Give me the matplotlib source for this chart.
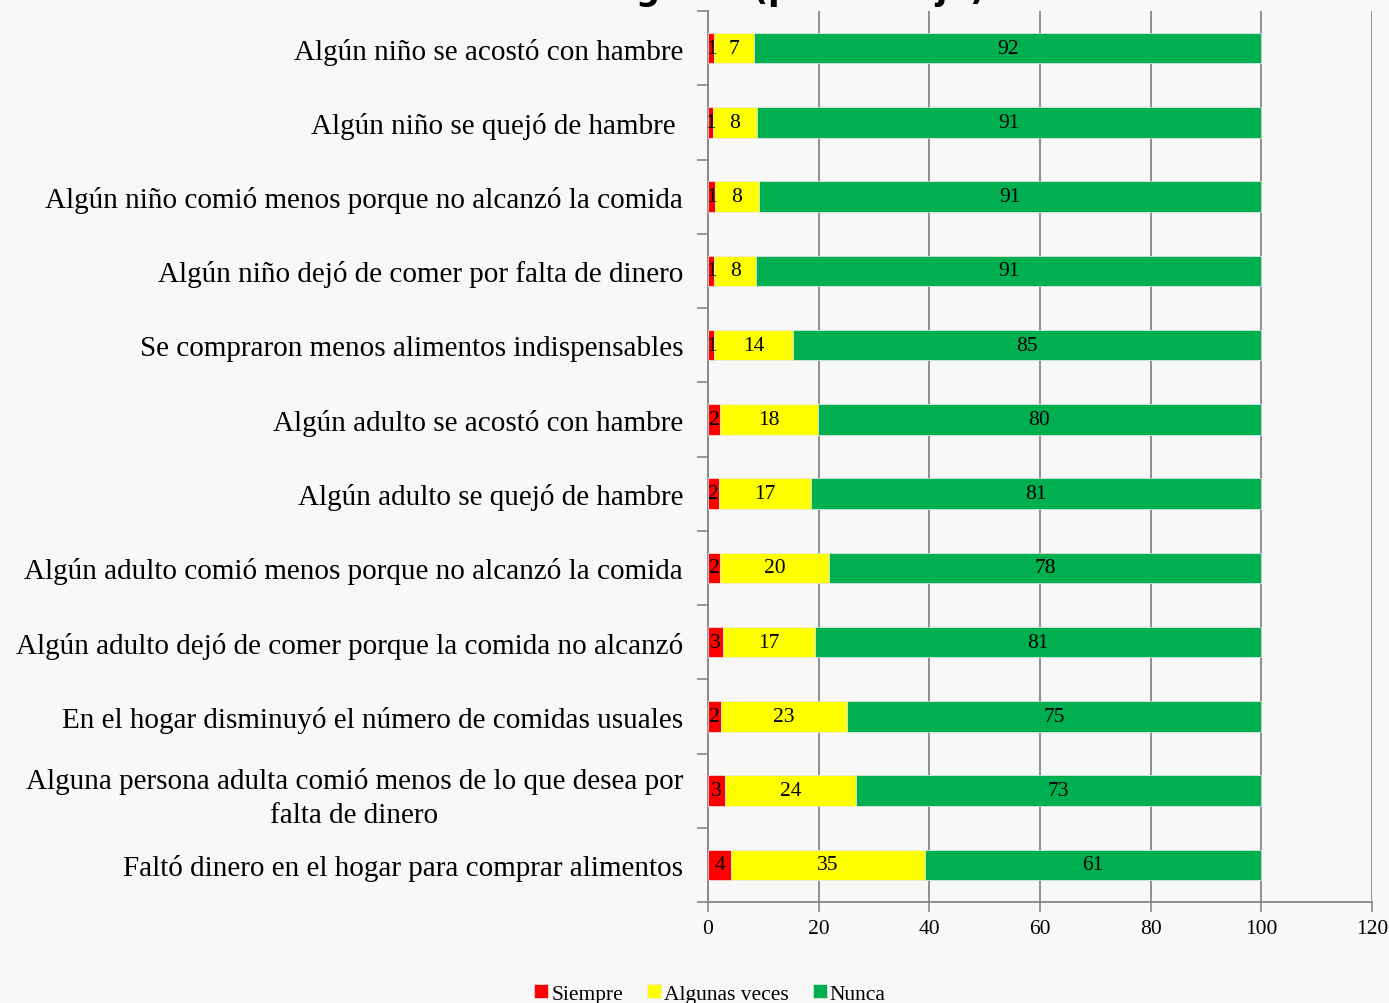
import numpy as np
import matplotlib.pyplot as plt
from matplotlib.ticker import FixedLocator

# categorias (de arriba hacia abajo)
categorias = [
    "Algún niño se acostó con hambre",
    "Algún niño se quejó de hambre ",
    "Algún niño comió menos porque no alcanzó la comida",
    "Algún niño dejó de comer por falta de dinero",
    "Se compraron menos alimentos indispensables",
    "Algún adulto se acostó con hambre",
    "Algún adulto se quejó de hambre",
    "Algún adulto comió menos porque no alcanzó la comida",
    "Algún adulto dejó de comer porque la comida no alcanzó",
    "En el hogar disminuyó el número de comidas usuales",
    "Alguna persona adulta comió menos de lo que desea por\nfalta de dinero",
    "Faltó dinero en el hogar para comprar alimentos",
]
siempre = [1.1, 0.9, 1.3, 1.1, 1.1, 2.2, 2.0, 2.2, 2.7, 2.3, 3.1, 4.2]
algunas = [7.2, 7.95, 7.9, 7.6, 14.25, 17.6, 16.6, 19.7, 16.6, 22.9, 23.6, 35.0]
nunca = [91.7, 91.15, 90.8, 91.3, 84.65, 80.2, 81.4, 78.1, 80.7, 74.8, 73.3, 60.8]

series = ["Siempre", "Algunas veces", "Nunca"]
colores = ["#FF0000", "#FFFF00", "#00B050"]

plt.rcParams['font.family'] = ['Liberation Serif', 'DejaVu Serif']

fig = plt.figure(figsize=(13.89, 10.04), dpi=100)
fig.patch.set_facecolor('#f8f8f8')
ax = fig.add_axes([708 / 1389, 1 - 903 / 1004, (1372 - 708) / 1389, (903 - 12) / 1004])
ax.set_facecolor('#f8f8f8')

y = np.arange(len(categorias))
izq = np.zeros(len(categorias))
for nombre, vals, col in zip(series, [siempre, algunas, nunca], colores):
    vals = np.array(vals)
    ax.barh(y, vals, left=izq, height=0.41, color=col, label=nombre,
            edgecolor='#e8e8e8', linewidth=0.5, zorder=3)
    for yi, l, v in zip(y, izq, vals):
        ax.text(l + v / 2, yi, f"{v:.0f}", ha='center', va='center',
                fontsize=15.5, color='black', zorder=4)
    izq += vals

ax.set_xlim(0, 120)
ax.set_ylim(len(categorias) - 0.5, -0.5)
ax.set_xticks(np.arange(0, 121, 20))
ax.set_yticks(y)
ax.set_yticklabels(categorias, fontsize=21, multialignment='center', linespacing=1.4)
ax.yaxis.set_minor_locator(FixedLocator(np.arange(-0.5, len(categorias), 1)))
ax.tick_params(axis='y', which='major', length=0, pad=18)
ax.tick_params(axis='y', which='minor', length=8, color='#868686', width=1.2)
ax.tick_params(axis='x', length=7, color='#868686', width=1.2, labelsize=15.5, pad=5)

ax.grid(axis='x', color='#868686', linewidth=1.3, zorder=0)
for s in ['top', 'right']:
    ax.spines[s].set_visible(False)
for s in ['left', 'bottom']:
    ax.spines[s].set_color('#868686')
    ax.spines[s].set_linewidth(1.3)

# titulo (recortado en la imagen original)
fig.text(985 / 1389, 1.0, "Indicadores de hambre en los hogares (porcentaje)",
         ha='right', va='baseline', fontsize=24, fontweight='bold',
         family='DejaVu Sans')

fig.legend(loc='center', bbox_to_anchor=(710 / 1389, 1 - 995 / 1004), ncol=3,
           frameon=False, fontsize=15.5, handlelength=0.65, handleheight=0.65,
           handletextpad=0.15, columnspacing=1.1)

fig.savefig('out.png', dpi=100, facecolor=fig.get_facecolor())
